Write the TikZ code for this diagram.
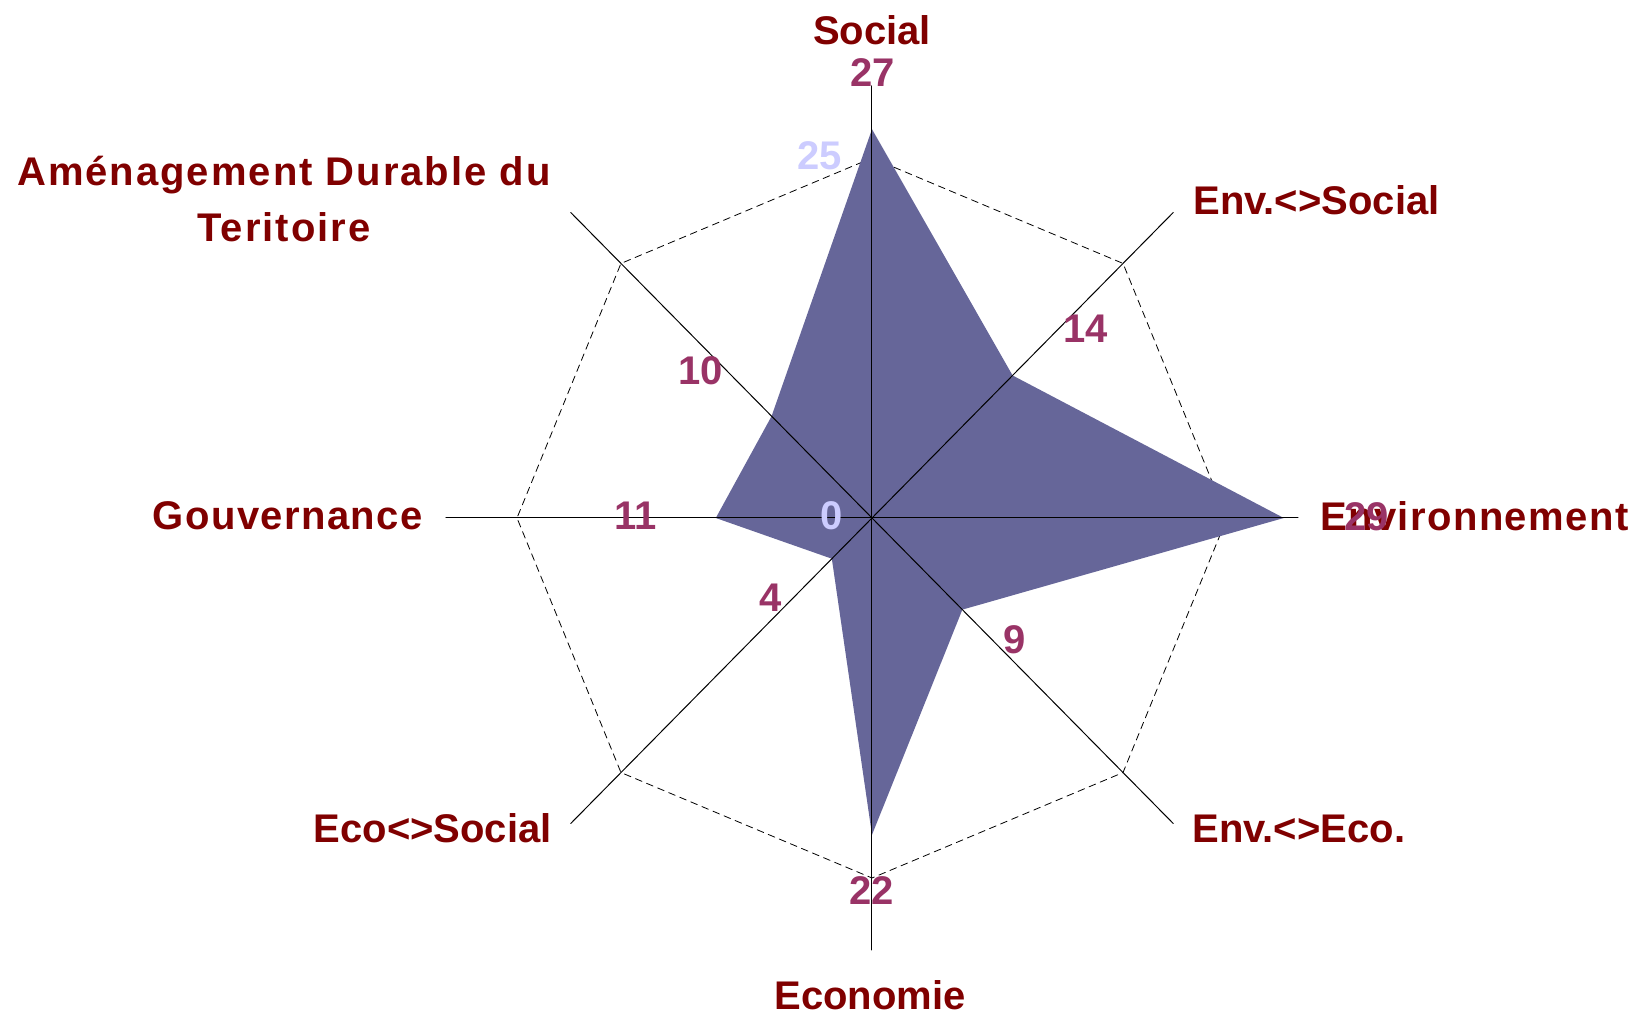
\documentclass[tikz,border=0pt]{standalone}
\usepackage{fontspec}
\setmainfont{Liberation Sans}
\newfontfamily\widefont{Liberation Sans}[LetterSpace=5.0]
\newfontfamily\halfwidefont{Liberation Sans}[LetterSpace=3.5]
\usepackage{xcolor}
\definecolor{catred}{HTML}{800000}
\definecolor{valplum}{HTML}{993366}
\definecolor{ticklav}{HTML}{CCCCFF}
\definecolor{areablue}{HTML}{666699}

\begin{document}
\begin{tikzpicture}[line cap=round,x=0.5pt,y=0.5pt,
  cat/.style={text=catred,inner sep=0pt,font=\fontsize{20}{24}\selectfont\bfseries},
  catwide/.style={cat,font=\fontsize{20}{24}\selectfont\widefont\bfseries},
  catsemi/.style={cat,font=\fontsize{20}{24}\selectfont\halfwidefont\bfseries},
  val/.style={text=valplum,inner sep=0pt,font=\fontsize{20}{24}\selectfont\bfseries},
  tickval/.style={val,text=ticklav},
  spoke/.style={black,line width=0.5pt},
  gridline/.style={black,line width=0.4pt,dash pattern=on 3.5pt off 2.5pt}]
\useasboundingbox (-872,-498) rectangle (767,518);
\coordinate (O) at (0,0);
\begin{scope}[x=7.1pt,y=7.2pt]
\foreach \ang [count=\i] in {90,45,0,-45,-90,-135,180,135} {
  \coordinate (a\i) at (\ang:30);
  \coordinate (g\i) at (\ang:25);
}
\coordinate (d1) at (90:27);
\coordinate (d2) at (45:14);
\coordinate (d3) at (0:29);
\coordinate (d4) at (-45:9);
\coordinate (d5) at (-90:22);
\coordinate (d6) at (-135:4);
\coordinate (d7) at (180:11);
\coordinate (d8) at (135:10);
\end{scope}
% grid at 25
\draw[gridline] (g1) -- (g2) -- (g3) -- (g4) -- (g5) -- (g6) -- (g7) -- (g8) -- cycle;
% data area
\fill[areablue] (d1) -- (d2) -- (d3) -- (d4) -- (d5) -- (d6) -- (d7) -- (d8) -- cycle;
\foreach \i in {1,...,8} \draw[spoke] (O) -- (a\i);
% axis labels
\node[tickval,anchor=base] (t25) at (-52,348) {25};
\node[tickval,anchor=base] (t0) at (-40,-12) {0};
% categories
\node[cat,anchor=base] (social) at (0,473) {Social};
\node[cat,anchor=base west] (envsoc) at (321,303) {Env.<>Social};
\node[catsemi,anchor=base west] (env) at (448,-13) {Environnement};
\node[cat,anchor=base west] (enveco) at (320,-325) {Env.<>Eco.};
\node[cat,anchor=base] (eco) at (-2,-492) {Economie};
\node[cat,anchor=base east] (ecosoc) at (-320,-325) {Eco<>Social};
\node[catsemi,anchor=base east] (gouv) at (-449,-12) {Gouvernance};
\node[catwide,anchor=base] (amen) at (-588,332) {Aménagement Durable du};
\node[catwide,anchor=base] (terr) at (-588,276) {Teritoire};
% values
\node[val,anchor=base] (v27) at (1,431) {27};
\node[val,anchor=base] (v14) at (214,175) {14};
\node[val,anchor=base] (v29) at (495,-13) {29};
\node[val,anchor=base] (v9) at (143,-136) {9};
\node[val,anchor=base] (v22) at (0,-387) {22};
\node[val,anchor=base] (v4) at (-101,-94) {4};
\node[val,anchor=base] (v11) at (-236,-12) {11};
\node[val,anchor=base] (v10) at (-171,133) {10};
\end{tikzpicture}
\end{document}
